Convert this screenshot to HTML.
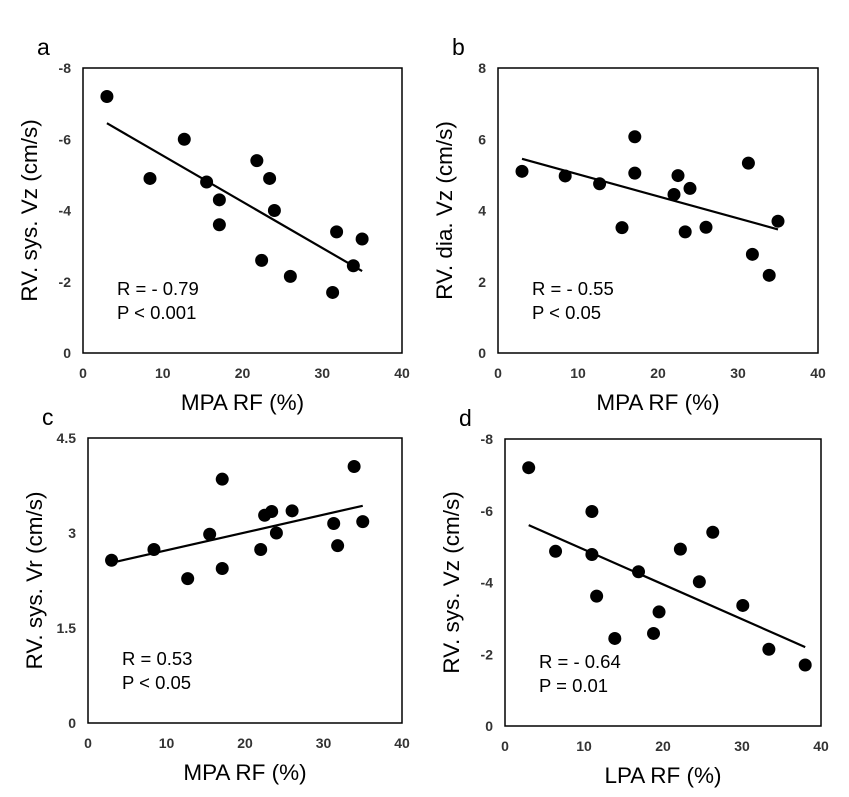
<!DOCTYPE html>
<html><head><meta charset="utf-8"><style>
body{margin:0;background:#fff;width:849px;height:792px;overflow:hidden}
svg{font-family:"Liberation Sans",sans-serif}
</style></head><body>
<svg id="s" width="849" height="792"></svg>
<script>
const aX=[3,8.4,12.7,15.5,17.1,17.1,21.8,22.4,23.4,24,26,31.3,31.8,33.9,35];
const aY=[-7.2,-4.9,-6.0,-4.8,-4.3,-3.6,-5.4,-2.6,-4.9,-4.0,-2.15,-1.7,-3.4,-2.45,-3.2];
const aFit=[[3,-6.45],[35,-2.3]];
const bX=[3,8.4,12.7,15.5,17.1,17.1,22,22.5,23.4,24,26,31.3,31.8,33.9,35];
const bY=[5.1,4.97,4.75,3.52,6.07,5.05,4.45,4.98,3.4,4.62,3.53,5.33,2.77,2.18,3.7];
const bFit=[[3,5.45],[35,3.47]];
const cX=[3,8.4,12.7,15.5,17.1,17.1,22,22.5,23.4,24,26,31.3,31.8,33.9,35];
const cY=[2.57,2.74,2.28,2.98,3.85,2.44,2.74,3.28,3.34,3.0,3.35,3.15,2.8,4.05,3.18];
const cFit=[[3,2.53],[35,3.43]];
const dX=[3,6.4,11,11,11.6,13.9,16.9,18.8,19.5,22.2,24.6,26.3,30.1,33.4,38];
const dY=[-7.2,-4.87,-5.98,-4.78,-3.62,-2.44,-4.3,-2.58,-3.18,-4.93,-4.02,-5.4,-3.36,-2.14,-1.7];
const dFit=[[3,-5.6],[38,-2.2]];
const xTicks=[0,10,20,30,40];
const yTicksVz=[0,-2,-4,-6,-8], yTicksDia=[0,2,4,6,8], yTicksVr=[0,1.5,3,4.5];
const NS="http://www.w3.org/2000/svg", svg=document.getElementById('s');
function mk(t,a,p,txt){const e=document.createElementNS(NS,t);for(const k in a)e.setAttribute(k,a[k]);if(txt!==undefined)e.textContent=txt;(p||svg).appendChild(e);return e;}
function panel(P){
 const g=mk('g',{});
 
 
 const sx=v=>P.x0+(v-0)/(40-0)*(P.x1-P.x0);
 const sy=v=>P.y1-(v-P.ymin)/(P.ymax-P.ymin)*(P.y1-P.y0);
 const f=mk('rect',{x:P.x0,y:P.y0,width:P.x1-P.x0,height:P.y1-P.y0,fill:'none',stroke:'#000','stroke-width':1.5},g);
 
 
 xTicks.forEach(t=>{const e=mk('text',{x:sx(t),y:P.y1+25,'text-anchor':'middle','font-size':14,'font-weight':'bold',fill:'#333'},g,t);
  
  });
 P.yt.forEach(t=>{const e=mk('text',{x:P.x0-12,y:sy(t)+5,'text-anchor':'end','font-size':14,'font-weight':'bold',fill:'#333'},g,t);
  
  });
 const fl=mk('line',{x1:sx(P.fit[0][0]),y1:sy(P.fit[0][1]),x2:sx(P.fit[1][0]),y2:sy(P.fit[1][1]),stroke:'#000','stroke-width':2.2},g);
 
 
 P.xs.forEach((v,i)=>{const c=mk('circle',{cx:sx(v),cy:sy(P.ys[i]),r:6.5,fill:'#000'},g);
  
  });
 const xt=mk('text',{x:(P.x0+P.x1)/2,y:P.y1+57,'text-anchor':'middle','font-size':22.5},g,P.xl);
 
 
 const cy=(P.y0+P.y1)/2, tx=P.x0-46;
 const yt=mk('text',{x:tx,y:cy,'text-anchor':'middle','font-size':22.5,transform:`rotate(-90 ${tx} ${cy})`},g,P.yl);
 
 
 const r=mk('text',{x:P.x0+34,y:P.y1-58,'font-size':18.5},g,P.r);
 
 
 const p=mk('text',{x:P.x0+34,y:P.y1-34,'font-size':18.5},g,P.p);
 
 
 const l=mk('text',{x:P.x0-46,y:P.y0-13,'font-size':23},g,P.id);
 
 
}
panel({id:'a',x0:83,x1:402,y0:68,y1:353,ymin:0,ymax:-8,yt:yTicksVz,xs:aX,ys:aY,fit:aFit,xl:'MPA RF (%)',yl:'RV. sys. Vz (cm/s)',r:'R = - 0.79',p:'P < 0.001'});
panel({id:'b',x0:498,x1:818,y0:68,y1:353,ymin:0,ymax:8,yt:yTicksDia,xs:bX,ys:bY,fit:bFit,xl:'MPA RF (%)',yl:'RV. dia. Vz (cm/s)',r:'R = - 0.55',p:'P < 0.05'});
panel({id:'c',x0:88,x1:402,y0:438,y1:723,ymin:0,ymax:4.5,yt:yTicksVr,xs:cX,ys:cY,fit:cFit,xl:'MPA RF (%)',yl:'RV. sys. Vr (cm/s)',r:'R = 0.53',p:'P < 0.05'});
panel({id:'d',x0:505,x1:821,y0:439,y1:726,ymin:0,ymax:-8,yt:yTicksVz,xs:dX,ys:dY,fit:dFit,xl:'LPA RF (%)',yl:'RV. sys. Vz (cm/s)',r:'R = - 0.64',p:'P = 0.01'});
</script>
</body></html>
